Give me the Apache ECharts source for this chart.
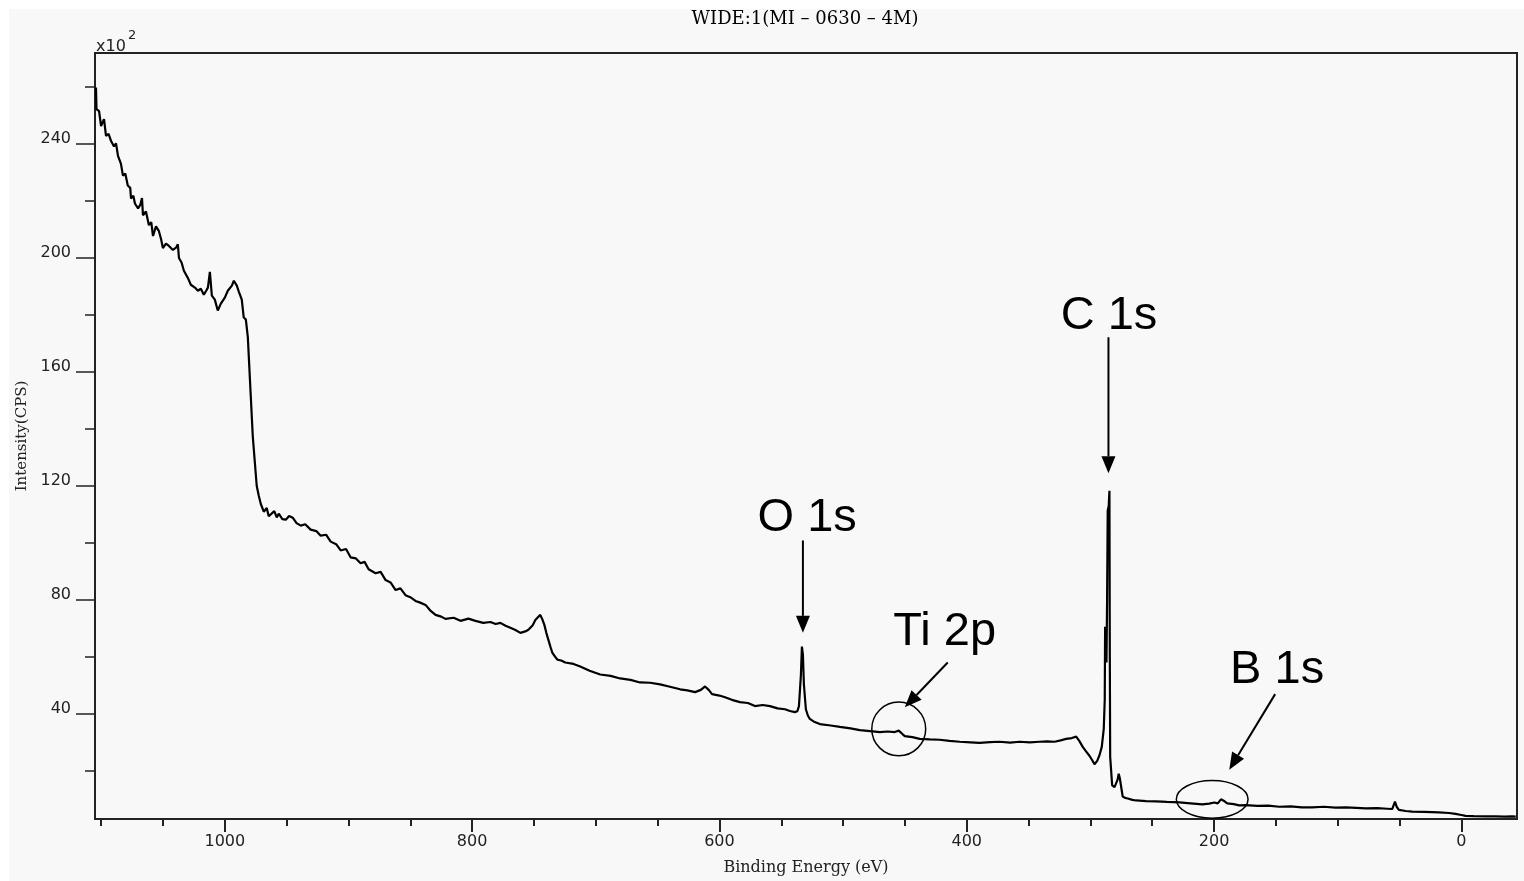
<!DOCTYPE html>
<html>
<head>
<meta charset="utf-8">
<script src="https://cdn.jsdelivr.net/npm/echarts@6/dist/echarts.min.js"></script>
<style>
html,body{margin:0;padding:0;background:#fff;}
#wrap{position:relative;width:1524px;height:881px;background:#fff;overflow:hidden;}
#bg{position:absolute;left:9px;top:9px;right:0;bottom:0;background:#f8f8f8;}
#main{position:absolute;left:0;top:0;width:1524px;height:881px;}
</style>
</head>
<body>
<div id="wrap"><div id="bg"></div><div id="main"></div></div>
<script>
// Binding energy (eV) and intensity (x10^2 CPS)
const energy = [
1104.2,1103.8,1101.7,1100.1,1097.7,1096.1,1094,1092,1089.6,1088,1086.4,1084,1082.4,1080.5,1078.5,1076.5,1075.9,1074,1072.7,1070.2,
1068.4,1067,1066.2,1063.8,1061.4,1059.5,1058.1,1055.7,1053.3,1051.5,1050.1,1047.6,1045.2,1042,1039.5,1038,1037.1,1035,1033.1,1029.9,
1027.5,1024.2,1021.8,1019.4,1017,1015.2,1013.7,1012.1,1010.5,1008.1,1005.7,1003.2,1000,997.6,994.3,992.7,990.3,988.7,986.3,984.7,
983,981.4,980.6,979,977.4,975.8,974.2,972.5,970.9,968.5,966.1,964.5,962.9,960,958,956.4,953.5,950.7,948,945.1,
942,938.6,935,930.6,926,922.5,918,914.4,910,906.3,902,898.3,894,890.2,887,883.7,878.1,874,870,866,
861.9,858,853.9,850,845.8,842,837.7,834,829.6,825,821.6,815,809.4,803,797.3,791,785.2,781,777.2,773,
769.1,765,761,757,754.5,751,748.9,746.8,744.9,743,741.6,740,738.4,736.6,735.2,733,731.1,728,724.7,718,
712.6,705,696.4,688,680.3,672,664.2,656,648,640,631.8,626,619.7,615,611.6,608.5,606,600,595.5,590,
583.4,577,571.3,565,559.1,553,547,543,539,537,535.7,534.1,533.3,532.5,531.7,530.1,528.5,526.9,523,518.8,
510,502.6,494,486.5,478,470.3,464,458.2,455,452,450.1,444,438,430,421.9,414,405.7,397,389.6,381,
373.4,365,357.3,349,341.1,335,329,324,319.6,315,311.5,309,306.2,303.5,300.8,298.5,296.7,294.5,292.7,290.8,
289.2,288.4,288.1,287.5,287,286.5,286,285.2,284.6,284.3,284,282.4,280.5,279.2,278,277.1,276.2,275.2,273.9,272,
269.8,266,263,255,246.9,238,228.1,219,209.5,204,199.8,197,194.4,191.5,189.3,184,179.7,174.3,165,156,
147.4,138,129,120.7,111,102,93.5,85,77.3,68,60,55.9,53.7,52.2,50.5,45,39.7,30,18.2,10,
4.7,0,-3.4,-10,-20,-27.6,-35,-41.1,-44
];
const intensity = [
259.8,252.2,251.5,246.3,248.7,242.8,243.5,241,239.1,240.2,235.8,233,228.9,229.6,225.4,224.6,220.9,221.8,219.1,217.4,
218.6,221,215,216.3,211.5,212.6,207.7,211.1,209.4,206.5,203.5,205,204.2,202.8,203.6,204.8,200,198.4,195.5,193,
190.6,189.6,188.5,189.2,187.1,188.4,189.6,195.1,186.8,185.4,181.6,184,186.1,188.5,190.3,192,190.3,188.2,185.4,179.1,
178.4,172.2,165.2,151.3,137.4,128.7,120,116.5,113.7,111,112.3,109.4,109.6,111.2,109,110.3,108.4,108.2,109.5,108.9,
107,106.1,106.6,104.7,104.2,102.6,102.9,100.5,99.6,97.4,97.9,95,94.6,92.9,93.4,90.8,89.4,89.9,87,86.2,
83.5,84.1,81.7,81,79.7,79.1,78.3,76.4,74.8,74.2,73.4,73.8,72.7,73.5,72.7,72,72.3,71.6,72,71,
70.3,69.5,68.5,69,69.6,71.2,73,74,74.8,73,71.3,68.5,66.1,63.5,61.6,60.2,59.1,58.8,58.1,57.6,
56.7,55.2,53.9,53.4,52.5,52,51.1,51,50.4,49.6,48.7,48.3,47.7,48.5,49.7,48.4,47,46.5,45.9,45,
44.2,43.9,42.8,43.2,42.8,42,41.7,41.1,40.7,41,42.8,53.9,63.7,60.9,50.4,41.7,39.5,38.3,37.2,36.5,
36,35.5,35,34.4,34,33.7,33.9,33.7,34.2,33,32.3,31.9,31.3,31.1,31,30.6,30.3,30.1,29.9,30.2,
30.3,30,30.3,30.1,30.3,30.4,30.3,30.8,31.3,31.6,32.1,30.6,28.5,26.9,25.4,23.8,22.4,23.6,25.5,28.5,
34.8,45,70.6,66,58.1,80,111.3,113,118.3,60,25,15,14.4,14.6,17,19.1,17.5,18,11.1,10.6,
10.4,9.9,9.7,9.5,9.4,9.2,9,8.7,8.3,8.6,9,8.7,10.1,9.4,8.7,8.4,8,8.1,7.8,7.9,
7.5,7.6,7.3,7.3,7.5,7.2,7.3,7.1,6.9,7,6.8,6.7,9.3,7.4,6.4,6,5.8,5.7,5.5,5.3,
5,4.6,4.3,4.2,4.1,4.1,4,4.1,4
];
const xMajorTicks = [0, 200, 400, 600, 800, 1000];
const xMinorTicks = [50, 100, 150, 250, 300, 350, 450, 500, 550, 650, 700, 750, 850, 900, 950, 1050, 1100];
const yMajorTicks = [40, 80, 120, 160, 200, 240];
const yMinorTicks = [20, 60, 100, 140, 180, 220, 260];
// peak annotations (data coordinates)
const peakNames = ['C 1s', 'O 1s', 'Ti 2p', 'B 1s'];
const peakTextAt = [[285, 179.8], [529, 108.9], [417.8, 68.9], [149, 55.3]];
const arrowFrom = [[285.4, 172.2], [532.5, 100.9], [415.4, 58.1], [150.6, 47]];
const arrowTo = [[285.4, 124.5], [532.5, 68.5], [450.1, 42.4], [187.7, 20.5]];
const ringCenter = [[455, 34.8], [201.5, 10.1]];
const ringHalfSize = [[21.8, 9.4], [29, 6.6]];

const chart = echarts.init(document.getElementById('main'));
const ink = '#222';
const plain = v => String(v);
const option = {
  animation: false,
  backgroundColor: 'transparent',
  grid: {left: 95, right: 7, top: 53, bottom: 55, show: true, borderColor: ink, borderWidth: 2, backgroundColor: 'transparent'},
  xAxis: [
    {type: 'value', inverse: true, min: -45, max: 1105, position: 'bottom',
     axisLine: {onZero: false, lineStyle: {color: ink, width: 2}},
     axisTick: {customValues: xMajorTicks, length: 13, lineStyle: {color: ink, width: 2}},
     axisLabel: {customValues: xMajorTicks, formatter: plain, margin: 15, fontSize: 16, fontFamily: 'DejaVu Sans', color: ink},
     splitLine: {show: false},
     name: 'Binding Energy (eV)', nameLocation: 'middle', nameGap: 41,
     nameTextStyle: {fontFamily: 'DejaVu Serif', fontSize: 16, color: ink}},
    {type: 'value', inverse: true, min: -45, max: 1105, position: 'bottom',
     axisLine: {show: false, onZero: false},
     axisTick: {customValues: xMinorTicks, length: 7, lineStyle: {color: ink, width: 2}},
     axisLabel: {show: false}, splitLine: {show: false}}
  ],
  yAxis: [
    {type: 'value', min: 3.2, max: 271.9, position: 'left',
     axisLine: {show: true, onZero: false, lineStyle: {color: ink, width: 2}},
     axisTick: {show: true, customValues: yMajorTicks, length: 19, lineStyle: {color: ink, width: 1.5}},
     axisLabel: {customValues: yMajorTicks, formatter: plain, margin: 24, fontSize: 16, fontFamily: 'DejaVu Sans', color: ink, verticalAlign: 'bottom', lineHeight: 10},
     splitLine: {show: false},
     name: 'Intensity(CPS)', nameLocation: 'middle', nameGap: 65,
     nameTextStyle: {fontFamily: 'DejaVu Serif', fontSize: 15, color: ink}},
    {type: 'value', min: 3.2, max: 271.9, position: 'left',
     axisLine: {show: false, onZero: false},
     axisTick: {show: true, customValues: yMinorTicks, length: 10, lineStyle: {color: ink, width: 1.5}},
     axisLabel: {show: false}, splitLine: {show: false}}
  ],
  series: [{
    type: 'line', xAxisIndex: 0, yAxisIndex: 0, showSymbol: false, symbol: 'none',
    lineStyle: {color: '#000', width: 2.2}, z: 3,
    data: energy.map((e, i) => [e, intensity[i]])
  }]
};
chart.setOption(option);

const px = d => chart.convertToPixel({seriesIndex: 0}, d);
const g = [];
g.push({type: 'text', x: 805, y: 19, style: {text: 'WIDE:1(MI – 0630 – 4M)', fontFamily: 'DejaVu Serif', fontSize: 18, fill: '#000', align: 'center', verticalAlign: 'middle'}});
g.push({type: 'text', x: 96, y: 47, style: {text: 'x10', fontFamily: 'DejaVu Sans', fontSize: 16, fill: ink, align: 'left', verticalAlign: 'middle'}});
g.push({type: 'text', x: 128, y: 36, style: {text: '2', fontFamily: 'DejaVu Sans', fontSize: 13, fill: ink, align: 'left', verticalAlign: 'middle'}});
peakNames.forEach((name, i) => {
  const t = px(peakTextAt[i]);
  g.push({type: 'text', x: t[0], y: t[1], z: 10, style: {text: name, fontFamily: 'Liberation Sans', fontSize: 47, fill: '#000', align: 'center', verticalAlign: 'middle'}});
  const a = px(arrowFrom[i]), b = px(arrowTo[i]);
  const dx = b[0] - a[0], dy = b[1] - a[1], len = Math.hypot(dx, dy);
  const ux = dx / len, uy = dy / len, L = 17, W = 7;
  const bx = b[0] - ux * L, by = b[1] - uy * L, nx = -uy, ny = ux;
  g.push({type: 'line', z: 10, shape: {x1: a[0], y1: a[1], x2: bx, y2: by}, style: {stroke: '#000', lineWidth: 2}});
  g.push({type: 'polygon', z: 10, shape: {points: [[b[0], b[1]], [bx + nx * W, by + ny * W], [bx - nx * W, by - ny * W]]}, style: {fill: '#000'}});
});
ringCenter.forEach((c, i) => {
  const cc = px(c);
  const e1 = px([c[0] - ringHalfSize[i][0], c[1] + ringHalfSize[i][1]]);
  g.push({type: 'ellipse', z: 10, shape: {cx: cc[0], cy: cc[1], rx: Math.abs(e1[0] - cc[0]), ry: Math.abs(cc[1] - e1[1])}, style: {fill: 'none', stroke: '#000', lineWidth: 1.5}});
});
chart.setOption({graphic: g});
</script>
</body>
</html>
